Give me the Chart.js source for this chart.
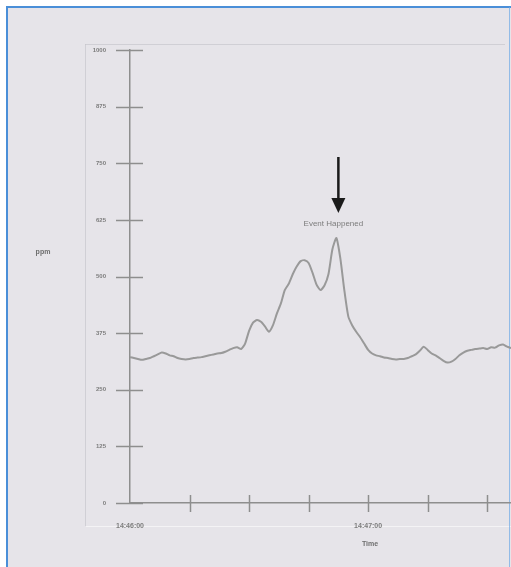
<!DOCTYPE html>
<html>
<head>
<meta charset="utf-8">
<title>ppm over time</title>
<script src="https://cdn.jsdelivr.net/npm/chart.js@4/dist/chart.umd.min.js"></script>
<style>
  html, body { margin: 0; padding: 0; background: #ffffff; }
  #wrap { width: 511px; height: 567px; }
</style>
</head>
<body>
<div id="wrap"><canvas id="c" width="511" height="567"></canvas></div>
<script>
// Seconds elapsed since 14:46:00
const seconds = [
  0, 1, 2, 3, 4, 5, 6, 7, 8, 9, 10, 11, 12, 13, 14, 15, 16, 17, 18, 19,
  20, 21, 22, 23, 24, 25, 26, 27, 28, 29, 30, 31, 32, 33, 34, 35, 36, 37, 38, 39,
  40, 41, 42, 43, 44, 45, 46, 47, 48, 49, 50, 51, 52, 53, 54, 55, 56, 57, 58, 59,
  60, 61, 62, 63, 64, 65, 66, 67, 68, 69, 70, 71, 72, 73, 74, 75, 76, 77, 78, 79,
  80, 81, 82, 83, 84, 85, 86, 87, 88, 89, 90, 91, 92, 93, 94, 95, 96
];

// Measured concentration (ppm)
const ppm = [
  322, 320, 318, 316, 318, 320, 324, 328, 332, 330, 326, 324, 320, 318, 317, 318, 320, 321, 322, 324,
  326, 328, 330, 331, 334, 338, 342, 344, 340, 352, 380, 398, 404, 400, 390, 378, 392, 418, 440, 470,
  484, 505, 522, 534, 536, 530, 508, 482, 470, 480, 505, 560, 585, 540, 470, 412, 392, 378, 366, 352,
  338, 330, 326, 324, 321, 320, 318, 317, 318, 318, 320, 324, 328, 336, 345, 338, 330, 326, 320, 314,
  310, 312, 318, 326, 332, 336, 338, 340, 341, 342, 340, 344, 343, 348, 350, 345, 342
];

const yTicks = [0, 125, 250, 375, 500, 625, 750, 875, 1000];
const xTicks = [0, 15, 30, 45, 60, 75, 90];
const xTickLabels = { 0: '14:46:00', 60: '14:47:00' };
const yTitle = 'ppm';
const xTitle = 'Time';
const eventLabel = 'Event Happened';

const AXIS = '#8e8e8e';
const TEXT = '#7c7c7c';
const FONT = 'Arial, "Liberation Sans", sans-serif';

const points = seconds.map((s, i) => ({ x: s, y: ppm[i] }));

const decor = {
  id: 'decor',
  beforeDraw(chart) {
    const ctx = chart.ctx;
    ctx.save();
    ctx.fillStyle = '#ffffff';
    ctx.fillRect(0, 0, 511, 567);
    ctx.fillStyle = '#e6e4e9';
    ctx.fillRect(6, 6, 505, 561);
    // inner panel edge
    ctx.strokeStyle = 'rgba(255,255,255,0.55)';
    ctx.lineWidth = 1;
    ctx.beginPath();
    ctx.moveTo(86, 526.5);
    ctx.lineTo(511, 526.5);
    ctx.stroke();
    ctx.strokeStyle = 'rgba(160,160,170,0.3)';
    ctx.beginPath();
    ctx.moveTo(85.5, 44);
    ctx.lineTo(85.5, 526);
    ctx.moveTo(85.5, 44.5);
    ctx.lineTo(505, 44.5);
    ctx.stroke();
    // blue frame
    ctx.strokeStyle = '#4a8fd8';
    ctx.lineWidth = 2;
    ctx.beginPath();
    ctx.moveTo(7, 567);
    ctx.lineTo(7, 7);
    ctx.lineTo(511, 7);
    ctx.stroke();
    ctx.strokeStyle = 'rgba(110,170,230,0.7)';
    ctx.lineWidth = 1;
    ctx.beginPath();
    ctx.moveTo(509.5, 7);
    ctx.lineTo(509.5, 567);
    ctx.stroke();
    ctx.restore();
  },
  afterDraw(chart) {
    const ctx = chart.ctx;
    const xs = chart.scales.x;
    const ys = chart.scales.y;
    const axisX = ys.right;
    const axisY = xs.top;
    ctx.save();
    ctx.strokeStyle = AXIS;
    ctx.lineWidth = 1.5;
    ctx.beginPath();
    // y tick marks crossing the axis
    yTicks.forEach(v => {
      const py = Math.round(ys.getPixelForValue(v)) + 0.5;
      ctx.moveTo(axisX - 14, py);
      ctx.lineTo(axisX + 13, py);
    });
    // x tick marks crossing the axis
    xTicks.forEach(v => {
      if (v === 0) return;
      const px = Math.round(xs.getPixelForValue(v)) + 0.5;
      ctx.moveTo(px, axisY - 8);
      ctx.lineTo(px, axisY + 9);
    });
    ctx.stroke();

    // axis titles
    ctx.fillStyle = '#6e6e6e';
    ctx.font = 'bold 7px ' + FONT;
    ctx.textAlign = 'center';
    ctx.textBaseline = 'middle';
    ctx.fillText(yTitle, 43, 252);
    ctx.fillText(xTitle, 370, 544);

    // event marker above the highest reading
    let peak = 0;
    ppm.forEach((v, i) => { if (v > ppm[peak]) peak = i; });
    const px = xs.getPixelForValue(seconds[peak]);
    const py = ys.getPixelForValue(ppm[peak]);
    ctx.fillStyle = TEXT;
    ctx.font = '8px ' + FONT;
    ctx.fillText(eventLabel, px - 3, py - 14);

    const ax = px + 2;
    const tipY = py - 25;
    ctx.strokeStyle = '#1a1a1a';
    ctx.lineWidth = 2.5;
    ctx.beginPath();
    ctx.moveTo(ax, tipY - 56);
    ctx.lineTo(ax, tipY - 12);
    ctx.stroke();
    ctx.fillStyle = '#1a1a1a';
    ctx.beginPath();
    ctx.moveTo(ax - 7, tipY - 15);
    ctx.lineTo(ax + 7, tipY - 15);
    ctx.lineTo(ax, tipY);
    ctx.closePath();
    ctx.fill();
    ctx.restore();
  }
};

new Chart(document.getElementById('c'), {
  type: 'line',
  data: {
    datasets: [{
      data: points,
      borderColor: '#999999',
      borderWidth: 2,
      pointRadius: 0,
      tension: 0.2,
      fill: false
    }]
  },
  options: {
    responsive: false,
    animation: false,
    events: [],
    layout: { padding: { top: 50, right: 0, left: 0, bottom: 0 } },
    plugins: { legend: { display: false }, tooltip: { enabled: false } },
    scales: {
      x: {
        type: 'linear',
        min: 0,
        max: 96,
        afterBuildTicks: s => { s.ticks = xTicks.map(v => ({ value: v })); },
        afterFit: s => { s.height = 64; },
        grid: { display: false },
        border: { display: true, color: AXIS, width: 1.5 },
        ticks: {
          autoSkip: false,
          maxRotation: 0,
          padding: 11,
          color: TEXT,
          font: { size: 7, family: FONT, weight: 'bold' },
          callback: v => xTickLabels[v] || ''
        }
      },
      y: {
        type: 'linear',
        min: 0,
        max: 1000,
        afterBuildTicks: s => { s.ticks = yTicks.map(v => ({ value: v })); },
        afterFit: s => { s.width = 130; },
        grid: { display: false },
        border: { display: true, color: AXIS, width: 1.5 },
        ticks: {
          padding: 16,
          color: TEXT,
          font: { size: 6, family: FONT, weight: 'bold' },
          callback: v => String(v)
        }
      }
    }
  },
  plugins: [decor]
});
</script>
</body>
</html>
